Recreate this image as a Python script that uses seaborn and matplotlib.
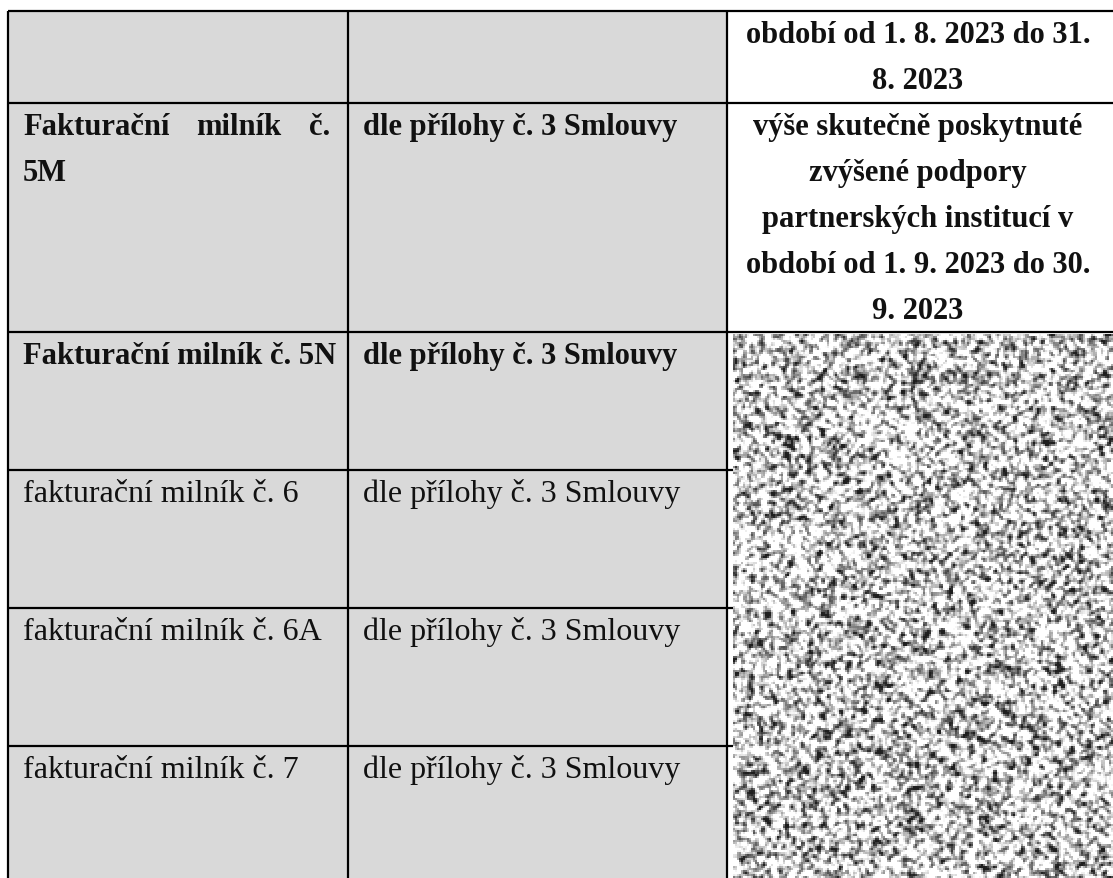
import numpy as np
import matplotlib
matplotlib.use("Agg")
import matplotlib.pyplot as plt
import seaborn as sns

# table content
milestone_lines = [
    ["Fakturační milník č.", "5M"],
    ["Fakturační milník č. 5N"],
    ["fakturační milník č. 6"],
    ["fakturační milník č. 6A"],
    ["fakturační milník č. 7"],
]
basis = ["dle přílohy č. 3 Smlouvy"] * 5
is_bold = [True, True, False, False, False]
top_note = ["období od 1. 8. 2023 do 31.", "8. 2023"]
amount_5m = ["výše skutečně poskytnuté", "zvýšené podpory",
             "partnerských institucí v", "období od 1. 9. 2023 do 30.", "9. 2023"]

# layout in pixels (image coordinates)
W, H = 1113, 879
row_edges = [12, 104, 333, 471, 609, 747, 879]
col_edges = [8, 348, 727, 1113]
pad = 15
line_h = 46
grey = "#d9d9d9"
font = "Liberation Serif"
fs_bold, fs_reg = 22, 23

sns.set_theme(style="white")
plt.rcParams["font.family"] = [font, "DejaVu Serif"]

fig = plt.figure(figsize=(W / 100, H / 100), dpi=100)
ax = fig.add_axes([0, 0, 1, 1])
ax.set_xlim(0, W)
ax.set_ylim(H, 0)
ax.set_axis_off()

# grey background of the first two columns
ax.fill_between([col_edges[0], col_edges[2]], row_edges[0], row_edges[-1], color=grey, lw=0)

# redacted cell: noise texture (visual mask only, not data)
rng = np.random.default_rng(7)
raw = rng.random((272, 190))
blur = 2 * raw
for dy, dx, wgt in [(-1, 0, 1), (1, 0, 1), (0, -1, 1), (0, 1, 1),
                    (-1, -1, .5), (-1, 1, .5), (1, -1, .5), (1, 1, .5)]:
    blur += wgt * np.roll(np.roll(raw, dy, 0), dx, 1)
blur /= 8
shade = np.clip(0.8 + (blur - 0.5) * 3.0, 0.12, 1)
x0, y0 = 733, 335
nax = fig.add_axes([x0 / W, 0, (W - x0) / W, (H - y0) / H])
sns.heatmap(shade, ax=nax, cmap="gray", vmin=0, vmax=1, cbar=False,
            xticklabels=False, yticklabels=False)
nax.set_axis_off()

# grid lines
lw = 1.6
for x in col_edges[:3]:
    ax.vlines(x, row_edges[0], row_edges[-1], color="black", lw=lw)
for y in row_edges[:3]:
    ax.hlines(y, col_edges[0], W, color="black", lw=lw)
for y in row_edges[3:-1]:
    ax.hlines(y, col_edges[0], x0, color="black", lw=lw)

fig.canvas.draw()
renderer = fig.canvas.get_renderer()


def put(x, y, s, bold, ha="left"):
    return ax.text(x, y, s, ha=ha, va="baseline",
                   fontsize=fs_bold if bold else fs_reg,
                   fontweight="bold" if bold else "normal", color="#111111")


def justify(y, s, bold, left, right):
    words = s.split()
    texts = [put(left, y, w, bold) for w in words]
    widths = [t.get_window_extent(renderer).width for t in texts]
    gap = (right - left - sum(widths)) / (len(words) - 1)
    x = left
    for t, w in zip(texts, widths):
        t.set_x(x)
        x += w + gap


cx = (col_edges[2] + col_edges[3]) / 2 - 2
for i, line in enumerate(top_note):
    put(cx, row_edges[0] + 31 + i * line_h, line, True, ha="center")

for r in range(5):
    top = row_edges[r + 1]
    lines = milestone_lines[r]
    for i, line in enumerate(lines):
        y = top + 31 + i * line_h
        if len(lines) > 1 and i < len(lines) - 1:
            justify(y, line, is_bold[r], col_edges[0] + pad, col_edges[1] - pad - 3)
        else:
            put(col_edges[0] + pad, y, line, is_bold[r])
    put(col_edges[1] + pad, top + 31, basis[r], is_bold[r])

for i, line in enumerate(amount_5m):
    put(cx, row_edges[1] + 31 + i * line_h, line, True, ha="center")

fig.savefig("out.png", dpi=100)
